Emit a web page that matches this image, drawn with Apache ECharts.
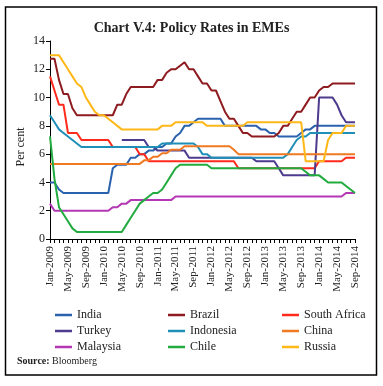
<!DOCTYPE html>
<html>
<head>
<meta charset="utf-8">
<script src="https://cdn.jsdelivr.net/npm/echarts@6/dist/echarts.min.js"></script>
<style>html,body{margin:0;padding:0;background:#fff}#c{width:383px;height:386px}</style>
</head>
<body>
<div id="c"></div>
<script>
var monthNames = ['Jan','Feb','Mar','Apr','May','Jun','Jul','Aug','Sep','Oct','Nov','Dec'];
var years = [2009, 2010, 2011, 2012, 2013, 2014];
var lastMonthIndex = 8; // Sep-2014
var yTicks = [0, 2, 4, 6, 8, 10, 12, 14];

var india = [4.0,4.0,3.5,3.25,3.25,3.25,3.25,3.25,3.25,3.25,3.25,3.25,
  3.25,3.25,5.0,5.25,5.25,5.25,5.75,5.75,6.0,6.0,6.25,6.25,
  6.5,6.5,6.75,6.75,7.25,7.5,8.0,8.0,8.25,8.5,8.5,8.5,
  8.5,8.5,8.5,8.0,8.0,8.0,8.0,8.0,8.0,8.0,8.0,7.75,
  7.75,7.5,7.5,7.25,7.25,7.25,7.25,7.25,7.5,7.75,7.75,8.0,
  8.0,8.0,8.0,8.0,8.0,8.0,8.0,8.0,8.0];
var brazil = [12.75,12.75,11.25,10.25,10.25,9.25,8.75,8.75,8.75,8.75,8.75,8.75,
  8.75,8.75,8.75,9.5,9.5,10.25,10.75,10.75,10.75,10.75,10.75,10.75,
  11.25,11.25,11.75,12.0,12.0,12.25,12.5,12.0,12.0,11.5,11.0,11.0,
  10.5,10.5,9.75,9.0,8.5,8.5,8.0,7.5,7.5,7.25,7.25,7.25,
  7.25,7.25,7.25,7.5,8.0,8.0,8.5,9.0,9.0,9.5,10.0,10.0,
  10.5,10.75,10.75,11.0,11.0,11.0,11.0,11.0,11.0];
var southAfrica = [11.5,10.5,9.5,9.5,7.5,7.5,7.5,7.0,7.0,7.0,7.0,7.0,
  7.0,7.0,6.5,6.5,6.5,6.5,6.5,6.5,6.0,6.0,5.5,5.5,
  5.5,5.5,5.5,5.5,5.5,5.5,5.5,5.5,5.5,5.5,5.5,5.5,
  5.5,5.5,5.5,5.5,5.5,5.5,5.0,5.0,5.0,5.0,5.0,5.0,
  5.0,5.0,5.0,5.0,5.0,5.0,5.0,5.0,5.0,5.0,5.0,5.0,
  5.5,5.5,5.5,5.5,5.5,5.5,5.75,5.75,5.75];
var turkey = [null,null,null,null,null,null,null,null,null,null,null,null,
  null,null,null,null,7.0,7.0,7.0,7.0,7.0,7.0,6.5,6.5,
  6.25,6.25,6.25,6.25,6.25,6.25,6.25,5.75,5.75,5.75,5.75,5.75,
  5.75,5.75,5.75,5.75,5.75,5.75,5.75,5.75,5.75,5.75,5.5,5.5,
  5.5,5.5,5.5,5.0,4.5,4.5,4.5,4.5,4.5,4.5,4.5,4.5,
  10.0,10.0,10.0,10.0,9.5,8.75,8.25,8.25,8.25];
var indonesia = [8.75,8.25,7.75,7.5,7.25,7.0,6.75,6.5,6.5,6.5,6.5,6.5,
  6.5,6.5,6.5,6.5,6.5,6.5,6.5,6.5,6.5,6.5,6.5,6.5,
  6.5,6.75,6.75,6.75,6.75,6.75,6.75,6.75,6.75,6.5,6.0,6.0,
  5.75,5.75,5.75,5.75,5.75,5.75,5.75,5.75,5.75,5.75,5.75,5.75,
  5.75,5.75,5.75,5.75,5.75,6.0,6.5,7.0,7.25,7.25,7.5,7.5,
  7.5,7.5,7.5,7.5,7.5,7.5,7.5,7.5,7.5];
var china = [5.31,5.31,5.31,5.31,5.31,5.31,5.31,5.31,5.31,5.31,5.31,5.31,
  5.31,5.31,5.31,5.31,5.31,5.31,5.31,5.31,5.31,5.56,5.56,5.81,
  5.81,6.06,6.06,6.31,6.31,6.31,6.56,6.56,6.56,6.56,6.56,6.56,
  6.56,6.56,6.56,6.56,6.56,6.31,6.0,6.0,6.0,6.0,6.0,6.0,
  6.0,6.0,6.0,6.0,6.0,6.0,6.0,6.0,6.0,6.0,6.0,6.0,
  6.0,6.0,6.0,6.0,6.0,6.0,6.0,6.0,6.0];
var malaysia = [2.5,2.0,2.0,2.0,2.0,2.0,2.0,2.0,2.0,2.0,2.0,2.0,
  2.0,2.0,2.25,2.25,2.5,2.5,2.75,2.75,2.75,2.75,2.75,2.75,
  2.75,2.75,2.75,2.75,3.0,3.0,3.0,3.0,3.0,3.0,3.0,3.0,
  3.0,3.0,3.0,3.0,3.0,3.0,3.0,3.0,3.0,3.0,3.0,3.0,
  3.0,3.0,3.0,3.0,3.0,3.0,3.0,3.0,3.0,3.0,3.0,3.0,
  3.0,3.0,3.0,3.0,3.0,3.0,3.25,3.25,3.25];
var chile = [7.25,4.25,2.25,1.75,1.25,0.75,0.5,0.5,0.5,0.5,0.5,0.5,
  0.5,0.5,0.5,0.5,0.5,1.0,1.5,2.0,2.5,2.75,3.0,3.25,
  3.25,3.5,4.0,4.5,5.0,5.25,5.25,5.25,5.25,5.25,5.25,5.25,
  5.0,5.0,5.0,5.0,5.0,5.0,5.0,5.0,5.0,5.0,5.0,5.0,
  5.0,5.0,5.0,5.0,5.0,5.0,5.0,5.0,5.0,4.75,4.5,4.5,
  4.5,4.25,4.0,4.0,4.0,4.0,3.75,3.5,3.25];
var russia = [13.0,13.0,13.0,12.5,12.0,11.5,11.0,10.75,10.0,9.5,9.0,8.75,
  8.75,8.5,8.25,8.0,7.75,7.75,7.75,7.75,7.75,7.75,7.75,7.75,
  7.75,8.0,8.0,8.0,8.25,8.25,8.25,8.25,8.25,8.25,8.25,8.0,
  8.0,8.0,8.0,8.0,8.0,8.0,8.0,8.0,8.25,8.25,8.25,8.25,
  8.25,8.25,8.25,8.25,8.25,8.25,8.25,8.25,8.25,5.5,5.5,5.5,
  5.5,5.5,7.0,7.5,7.5,7.5,8.0,8.0,8.0];

var categories = [];
years.forEach(function (y, yi) {
  monthNames.forEach(function (m, mi) {
    if (yi === years.length - 1 && mi > lastMonthIndex) return;
    categories.push(m + '-' + y);
  });
});

var seriesDefs = [
  {name: 'India', data: india, color: '#2a62ad'},
  {name: 'Brazil', data: brazil, color: '#8e1b1f'},
  {name: 'South Africa', data: southAfrica, color: '#ff2a1c'},
  {name: 'Turkey', data: turkey, color: '#4d3b8e'},
  {name: 'Indonesia', data: indonesia, color: '#1f8fb8'},
  {name: 'China', data: china, color: '#f07a22'},
  {name: 'Malaysia', data: malaysia, color: '#b437b4'},
  {name: 'Chile', data: chile, color: '#22ab3e'},
  {name: 'Russia', data: russia, color: '#ffb818'}
];

var FONT = 'Liberation Serif';
var chart = echarts.init(document.getElementById('c'), null, {renderer: 'canvas'});

function legendCol(names, left) {
  return {
    orient: 'vertical', left: left, top: 303, itemGap: 2,
    icon: 'rect', itemWidth: 17, itemHeight: 2.5,
    data: names,
    textStyle: {fontFamily: FONT, fontSize: 12, color: '#222', lineHeight: 14}
  };
}

chart.setOption({
  animation: false,
  backgroundColor: '#fff',
  title: {
    text: 'Chart V.4: Policy Rates in EMEs', left: 'center', top: 16,
    textStyle: {fontFamily: FONT, fontWeight: 'bold', fontSize: 14, color: '#222'}
  },
  legend: [
    legendCol(['India', 'Turkey', 'Malaysia'], 50),
    legendCol(['Brazil', 'Indonesia', 'Chile'], 163),
    legendCol(['South Africa', 'China', 'Russia'], 277)
  ],
  grid: {left: 50, right: 28, top: 41, bottom: 147},
  xAxis: {
    type: 'category', data: categories, boundaryGap: false,
    axisLine: {lineStyle: {color: '#000', width: 1}},
    axisTick: {show: true, interval: 0, length: 4, lineStyle: {color: '#000'}},
    axisLabel: {interval: 3, rotate: 90, fontFamily: FONT, fontSize: 11, color: '#222', margin: 7}
  },
  yAxis: {
    type: 'value', min: yTicks[0], max: yTicks[yTicks.length - 1], interval: 2,
    axisLine: {show: true, lineStyle: {color: '#000', width: 1}},
    axisTick: {show: true, length: 4, lineStyle: {color: '#000'}},
    splitLine: {show: false},
    axisLabel: {fontFamily: FONT, fontSize: 12, color: '#222', margin: 5}
  },
  series: seriesDefs.map(function (s) {
    return {
      name: s.name, type: 'line', data: s.data, showSymbol: false, symbol: 'none',
      connectNulls: false,
      lineStyle: {color: s.color, width: 2},
      itemStyle: {color: s.color}
    };
  }),
  graphic: [
    {type: 'rect', shape: {x: 5.5, y: 7, width: 371, height: 368},
     style: {fill: 'none', stroke: '#000', lineWidth: 1.5}, silent: true},
    {type: 'text', x: 21, y: 147, rotation: Math.PI / 2,
     style: {text: 'Per cent', font: '12px "Liberation Serif"', fill: '#222',
             align: 'center', verticalAlign: 'middle'}},
    {type: 'text', x: 17, y: 356,
     style: {text: '{b|Source:} Bloomberg', font: '10px "Liberation Serif"', fill: '#222',
             rich: {b: {fontWeight: 'bold', fontFamily: FONT, fontSize: 10}}}}
  ]
});
</script>
</body>
</html>
